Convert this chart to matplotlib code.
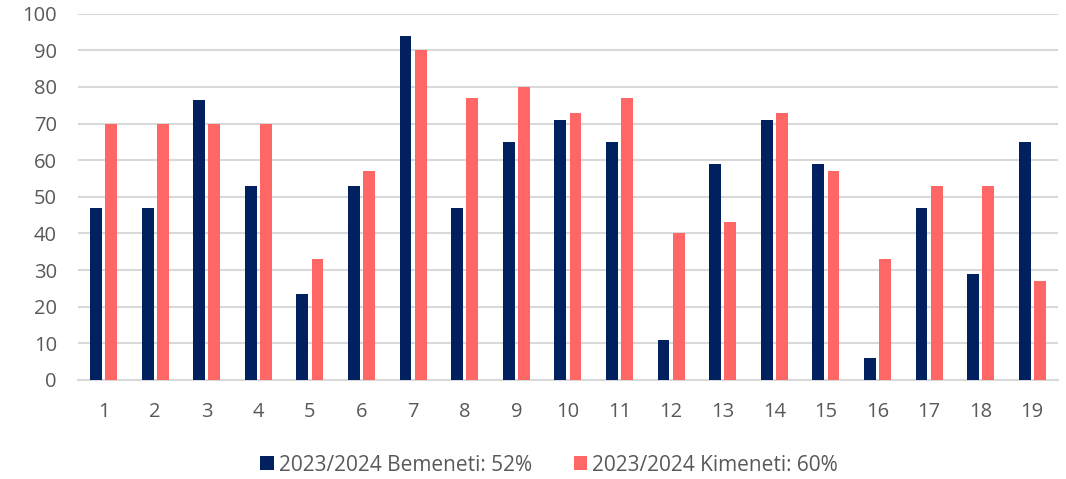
import numpy as np
import matplotlib.pyplot as plt

# categories and values
cats = [str(i) for i in range(1, 20)]
bemenet = [47, 47, 76.5, 53, 23.5, 53, 94, 47, 65, 71, 65, 11, 59, 71, 59, 6, 47, 29, 65]
kimenet = [70, 70, 70, 70, 33, 57, 90, 77, 80, 73, 77, 40, 43, 73, 57, 33, 53, 53, 27]
labels = ['2023/2024 Bemeneti: 52%', '2023/2024 Kimeneti: 60%']

navy = '#002060'
salmon = '#FF6666'
txt = '#595959'
grid = '#d9d9d9'

plt.rcParams['font.family'] = ['Open Sans', 'DejaVu Sans']

fig = plt.figure(figsize=(10.66, 4.79), dpi=100)
ax = fig.add_axes([0.073, 0.2067, 0.9195, 0.7647])

x = np.arange(len(cats))
w = 0.23
off = 0.147
ax.bar(x - off, bemenet, w, color=navy, label=labels[0], zorder=3)
ax.bar(x + off, kimenet, w, color=salmon, label=labels[1], zorder=3)

ax.set_xlim(-0.5, len(cats) - 0.5)
ax.set_ylim(0, 100)
ax.set_yticks(range(0, 101, 10))
ax.set_xticks(x)
ax.set_xticklabels(cats)
ax.yaxis.grid(True, color=grid, linewidth=1.5, zorder=0)
for s in ['top', 'right', 'left']:
    ax.spines[s].set_visible(False)
ax.spines['bottom'].set_color(grid)
ax.spines['bottom'].set_linewidth(1.5)
ax.tick_params(axis='both', length=0, labelsize=14.5, colors=txt)
ax.tick_params(axis='y', pad=15)
ax.tick_params(axis='x', pad=16)

fig.legend(loc='center', bbox_to_anchor=(0.515, 0.029), ncol=2, frameon=False,
           fontsize=15, labelcolor=txt, handlelength=0.65, handleheight=0.65,
           handletextpad=0.25, columnspacing=2.0)

fig.savefig('out.png', dpi=100)
